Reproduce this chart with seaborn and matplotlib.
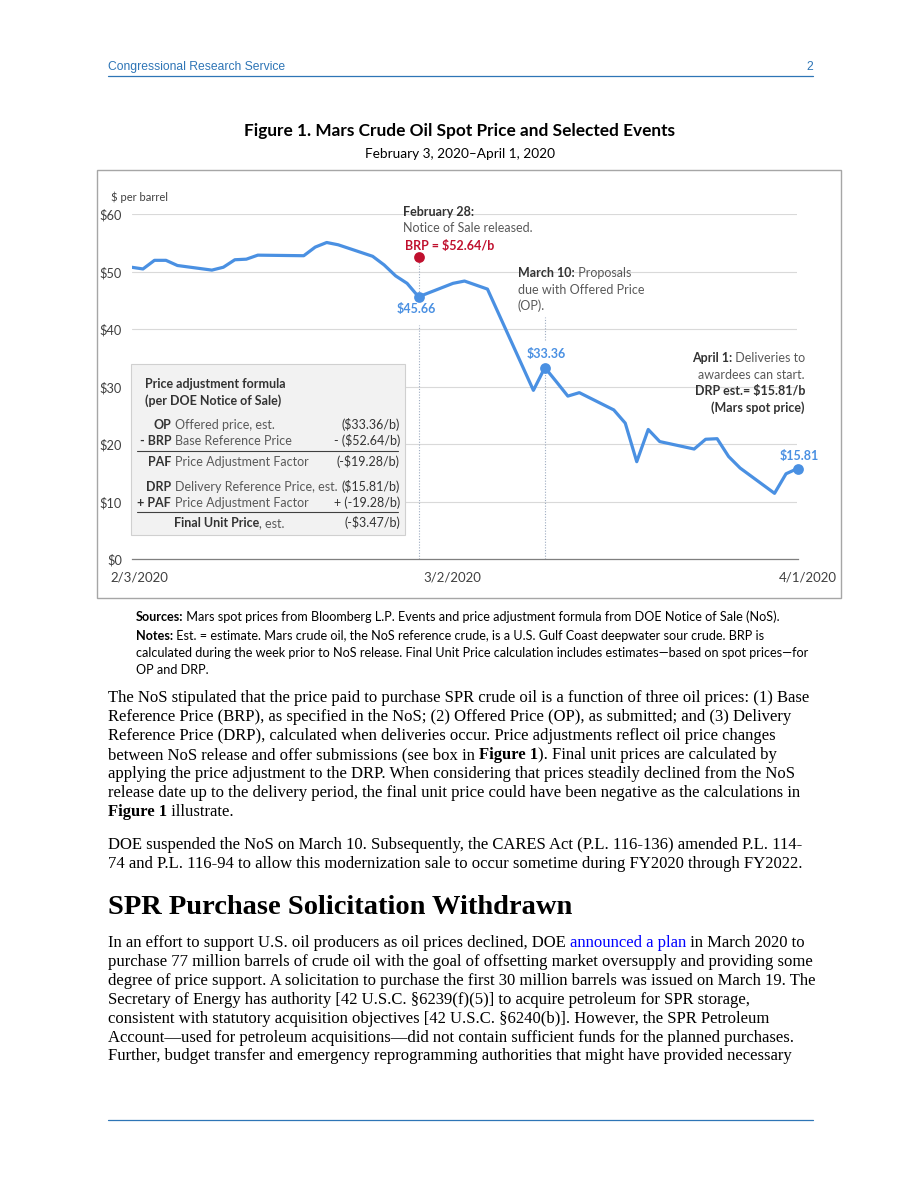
import numpy as np
import pandas as pd
import matplotlib
matplotlib.use('Agg')
import matplotlib.pyplot as plt
import matplotlib.dates as mdates
from matplotlib.patches import Rectangle
from matplotlib.lines import Line2D
import seaborn as sns

W, H = 920, 1191

# Mars crude spot price, trading days
trade_dates = [
    '2020-02-03', '2020-02-04', '2020-02-05', '2020-02-06', '2020-02-07',
    '2020-02-10', '2020-02-11', '2020-02-12', '2020-02-13', '2020-02-14',
    '2020-02-18', '2020-02-19', '2020-02-20', '2020-02-21',
    '2020-02-24', '2020-02-25', '2020-02-26', '2020-02-27', '2020-02-28',
    '2020-03-02', '2020-03-03', '2020-03-04', '2020-03-05', '2020-03-06',
    '2020-03-09', '2020-03-10', '2020-03-11', '2020-03-12', '2020-03-13',
    '2020-03-16', '2020-03-17', '2020-03-18', '2020-03-19', '2020-03-20',
    '2020-03-23', '2020-03-24', '2020-03-25', '2020-03-26', '2020-03-27',
    '2020-03-30', '2020-03-31', '2020-04-01',
]
mars_price = [
    50.8, 50.5, 52.0, 52.0, 51.1,
    50.3, 50.8, 52.1, 52.2, 52.9,
    52.8, 54.3, 55.1, 54.7,
    52.7, 51.2, 49.3, 48.0, 45.66,
    48.0, 48.4, 47.7, 47.0, 42.6,
    29.4, 33.36, 30.9, 28.4, 29.0,
    26.0, 23.7, 17.0, 22.6, 20.5,
    19.2, 20.9, 21.0, 17.9, 15.9,
    11.5, 14.9, 15.81,
]

brp_date = '2020-02-28'
brp_value = 52.64
event_dates = ['2020-02-28', '2020-03-10', '2020-04-01']
event_labels = ['$45.66', '$33.36', '$15.81']

tick_dates = pd.date_range('2020-02-03', '2020-04-01', freq='2D')
date_labels = ['2/3/2020', '3/2/2020', '4/1/2020']
date_label_pos = ['2020-02-03', '2020-03-02', '2020-04-01']
y_ticks = [0, 10, 20, 30, 40, 50, 60]
y_labels = ['$0', '$10', '$20', '$30', '$40', '$50', '$60']

formula_codes = ['OP', '- BRP', 'PAF', 'DRP', '+ PAF']
formula_names = ['Offered price, est.', 'Base Reference Price', 'Price Adjustment Factor',
                 'Delivery Reference Price, est.', 'Price Adjustment Factor']
formula_values = ['($33.36/b)', '- ($52.64/b)', '(-$19.28/b)', '($15.81/b)', '+ (-19.28/b)']

BLUE = '#4A90E2'
RED = '#C0102E'
DARK = '#333333'
GREY = '#595959'
CRS = '#2E75B6'
CHART_FONT = ['Lato', 'DejaVu Sans']
CAPTION_FONT = ['Lato', 'DejaVu Sans']
SERIF = ['Liberation Serif', 'DejaVu Serif']
NOTE = 9        # chart annotations
BOXF = 9        # formula box
CAP = 9.1       # sources / notes
BODY = 12

sns.set_style('white')
plt.rcParams['font.family'] = CHART_FONT

fig = plt.figure(figsize=(W / 100, H / 100), dpi=100)
renderer = fig.canvas.get_renderer()


def fx(x):
    return x / W


def fy(y):
    return 1 - y / H


def runs(x, y, parts, size, family, ha='left'):
    """Draw a line of text made of (string, weight, color) pieces; y is the baseline in pixels."""
    texts = []
    for s, w, c in parts:
        texts.append(fig.text(0, fy(y), s, fontsize=size, family=family, weight=w,
                              color=c, va='baseline', ha='left'))
    widths = [t.get_window_extent(renderer).width for t in texts]
    total = sum(widths)
    x0 = x - total if ha == 'right' else (x - total / 2 if ha == 'center' else x)
    for t, wd in zip(texts, widths):
        t.set_x(fx(x0))
        x0 += wd


# ---------------- page header ----------------
fig.text(fx(108), fy(70), 'Congressional Research Service', fontsize=8.7,
         family=['Liberation Sans'], color=CRS, va='baseline')
fig.text(fx(813), fy(70), '2', fontsize=8.7, family=['Liberation Sans'], color=CRS,
         va='baseline', ha='right')
fig.add_artist(Line2D([fx(108), fx(813)], [fy(75.5), fy(75.5)], color=CRS, lw=0.9))

runs(460, 136, [('Figure 1. Mars Crude Oil Spot Price and Selected Events', 'bold', 'black')],
     12.4, CAPTION_FONT, ha='center')
runs(460, 158, [('February 3, 2020\u2013April 1, 2020', 'normal', 'black')], 9.8,
     CAPTION_FONT, ha='center')

# chart frame
fig.add_artist(Rectangle((fx(97), fy(598)), fx(841) - fx(97), fy(170) - fy(598),
                         fill=False, edgecolor='#A6A6A6', lw=1.0))

# ---------------- chart ----------------
ax = fig.add_axes([fx(131.5), fy(559.5), fx(797.5) - fx(131.5), fy(214.3) - fy(559.5)])

df = pd.DataFrame({'date': pd.to_datetime(trade_dates), 'price': mars_price})
sns.lineplot(data=df, x='date', y='price', ax=ax, color=BLUE, linewidth=2.3,
             solid_joinstyle='round', zorder=4)

ev = df[df['date'].isin(pd.to_datetime(event_dates))]
sns.scatterplot(data=ev, x='date', y='price', ax=ax, color=BLUE, s=60, linewidth=0,
                zorder=6, clip_on=False)
brp = pd.DataFrame({'date': pd.to_datetime([brp_date]), 'price': [brp_value]})
sns.scatterplot(data=brp, x='date', y='price', ax=ax, color=RED, s=60, linewidth=0,
                zorder=6, clip_on=False)

# leader lines
lead = dict(color='#9DABC0', lw=0.8, ls=(0, (1, 1.5)), zorder=2)
d0, d1, d2 = pd.to_datetime(event_dates)
v0, v1, v2 = ev['price'].tolist()
ax.plot([d0, d0], [v0, brp_value], **lead)
ax.plot([d0, d0], [0, v0 - 4.9], **lead)
ax.plot([d1, d1], [0, v1], **lead)
ax.plot([d1, d1], [v1 + 4.8, v1 + 8.8], **lead)
ax.plot([d2, d2], [0, v2], **lead)
ax.plot([d2, d2], [v2 + 5.0, v2 + 9.0], **lead)

offsets = [(-1.5, -8.6), (1, 9.9), (1.5, 9.0)]
for d, v, lbl, off in zip([d0, d1, d2], [v0, v1, v2], event_labels, offsets):
    ax.annotate(lbl, (d, v), xytext=off, textcoords='offset points', ha='center',
                va='center', color=BLUE, fontsize=9, weight='bold', annotation_clip=False)

ax.set_xlim(pd.Timestamp('2020-02-03'), pd.Timestamp('2020-04-01'))
ax.set_ylim(0, 60)
ax.set_xticks(tick_dates)
ax.set_xticklabels([''] * len(tick_dates))
ax.set_yticks(y_ticks)
ax.set_yticklabels(y_labels, fontsize=9.2, color='#404040')
ax.tick_params(axis='y', length=0, pad=7)
ax.tick_params(axis='x', direction='out', length=4, width=0.8, color='#7F7F7F')
ax.set_xlabel('')
ax.set_ylabel('')
for s in ['top', 'right', 'left']:
    ax.spines[s].set_visible(False)
ax.spines['bottom'].set_color('#7F7F7F')
ax.spines['bottom'].set_linewidth(0.9)
ax.yaxis.grid(True, color='#D9D9D9', lw=0.8)
ax.set_axisbelow(True)
ax.patch.set_alpha(0)

label_dx = [5.4, -0.5, 7.6]
for pos, lbl, dx in zip(date_label_pos, date_labels, label_dx):
    ax.annotate(lbl, xy=(mdates.date2num(pd.Timestamp(pos)), 0), xycoords=('data', 'axes fraction'),
                xytext=(dx, -13.3), textcoords='offset points', ha='center', va='center',
                fontsize=9.5, color='#404040', annotation_clip=False)

runs(111, 201, [('$ per barrel', 'normal', '#404040')], 8, CHART_FONT)

# event notes
runs(403, 216, [('February 28:', 'bold', DARK)], NOTE, CHART_FONT)
runs(403, 232, [('Notice of Sale released.', 'normal', GREY)], NOTE, CHART_FONT)
runs(405, 250, [('BRP = $52.64/b', 'bold', RED)], NOTE, CHART_FONT)

runs(518, 277, [('March 10:', 'bold', DARK), (' Proposals', 'normal', GREY)], NOTE, CHART_FONT)
runs(518, 294, [('due with Offered Price', 'normal', GREY)], NOTE, CHART_FONT)
runs(518, 310, [('(OP).', 'normal', GREY)], NOTE, CHART_FONT)

runs(805, 362, [('April 1:', 'bold', DARK), (' Deliveries to', 'normal', GREY)], NOTE,
     CHART_FONT, ha='right')
runs(805, 379, [('awardees can start.', 'normal', GREY)], NOTE, CHART_FONT, ha='right')
runs(805, 395, [('DRP est.= $15.81/b', 'bold', DARK)], NOTE, CHART_FONT, ha='right')
runs(805, 412, [('(Mars spot price)', 'bold', DARK)], NOTE, CHART_FONT, ha='right')

# formula box
fig.add_artist(Rectangle((fx(130.7), fy(535)), fx(405) - fx(130.7), fy(364) - fy(535),
                         facecolor='#F2F2F2', edgecolor='#D0D0D0', lw=0.8, zorder=3))
runs(145, 388, [('Price adjustment formula', 'bold', DARK)], BOXF, CHART_FONT)
runs(145, 405, [('(per DOE Notice of Sale)', 'bold', DARK)], BOXF, CHART_FONT)
row_y = [429, 445, 466, 491, 507]
for y, code, name, val in zip(row_y, formula_codes, formula_names, formula_values):
    runs(171, y, [(code, 'bold', DARK)], BOXF, CHART_FONT, ha='right')
    runs(175, y, [(name, 'normal', GREY)], BOXF, CHART_FONT)
    runs(400, y, [(val, 'normal', DARK)], BOXF, CHART_FONT, ha='right')
runs(174, 527, [('Final Unit Price', 'bold', DARK), (', est.', 'normal', GREY)], BOXF, CHART_FONT)
runs(400, 527, [('(-$3.47/b)', 'normal', DARK)], BOXF, CHART_FONT, ha='right')
for y in [450.5, 511.5]:
    fig.add_artist(Line2D([fx(137), fx(398)], [fy(y), fy(y)], color='#404040', lw=0.8, zorder=4))

# ---------------- caption ----------------
runs(136, 621, [('Sources:', 'bold', 'black'),
                (' Mars spot prices from Bloomberg L.P. Events and price adjustment formula from DOE Notice of Sale (NoS).', 'normal', 'black')],
     CAP, CAPTION_FONT)
runs(136, 640, [('Notes:', 'bold', 'black'),
                (' Est. = estimate. Mars crude oil, the NoS reference crude, is a U.S. Gulf Coast deepwater sour crude. BRP is', 'normal', 'black')],
     CAP, CAPTION_FONT)
runs(136, 657, [('calculated during the week prior to NoS release. Final Unit Price calculation includes estimates\u2014based on spot prices\u2014for', 'normal', 'black')],
     CAP, CAPTION_FONT)
runs(136, 674, [('OP and DRP.', 'normal', 'black')], CAP, CAPTION_FONT)

# ---------------- body text ----------------
p1 = [
    [('The NoS stipulated that the price paid to purchase SPR crude oil is a function of three oil prices: (1) Base', 'normal', 'black')],
    [('Reference Price (BRP), as specified in the NoS; (2) Offered Price (OP), as submitted; and (3) Delivery', 'normal', 'black')],
    [('Reference Price (DRP), calculated when deliveries occur. Price adjustments reflect oil price changes', 'normal', 'black')],
    [('between NoS release and offer submissions (see box in ', 'normal', 'black'), ('Figure 1', 'bold', 'black'),
     ('). Final unit prices are calculated by', 'normal', 'black')],
    [('applying the price adjustment to the DRP. When considering that prices steadily declined from the NoS', 'normal', 'black')],
    [('release date up to the delivery period, the final unit price could have been negative as the calculations in', 'normal', 'black')],
    [('Figure 1', 'bold', 'black'), (' illustrate.', 'normal', 'black')],
]
for i, line in enumerate(p1):
    runs(108, 702.5 + i * 18.9, line, BODY, SERIF)

p2 = [
    [('DOE suspended the NoS on March 10. Subsequently, the CARES Act (P.L. 116-136) amended P.L. 114-', 'normal', 'black')],
    [('74 and P.L. 116-94 to allow this modernization sale to occur sometime during FY2020 through FY2022.', 'normal', 'black')],
]
for i, line in enumerate(p2):
    runs(108, 849 + i * 18.9, line, BODY, SERIF)

runs(108, 914, [('SPR Purchase Solicitation Withdrawn', 'bold', 'black')], 20.5, SERIF)

p3 = [
    [('In an effort to support U.S. oil producers as oil prices declined, DOE ', 'normal', 'black'),
     ('announced a plan', 'normal', '#0000FF'), (' in March 2020 to', 'normal', 'black')],
    [('purchase 77 million barrels of crude oil with the goal of offsetting market oversupply and providing some', 'normal', 'black')],
    [('degree of price support. A solicitation to purchase the first 30 million barrels was issued on March 19. The', 'normal', 'black')],
    [('Secretary of Energy has authority [42 U.S.C. \u00a76239(f)(5)] to acquire petroleum for SPR storage,', 'normal', 'black')],
    [('consistent with statutory acquisition objectives [42 U.S.C. \u00a76240(b)]. However, the SPR Petroleum', 'normal', 'black')],
    [('Account\u2014used for petroleum acquisitions\u2014did not contain sufficient funds for the planned purchases.', 'normal', 'black')],
    [('Further, budget transfer and emergency reprogramming authorities that might have provided necessary', 'normal', 'black')],
]
for i, line in enumerate(p3):
    runs(108, 947 + i * 18.9, line, BODY, SERIF)

fig.add_artist(Line2D([fx(108), fx(813)], [fy(1120), fy(1120)], color=CRS, lw=0.9))

fig.savefig('out.png', dpi=100)
